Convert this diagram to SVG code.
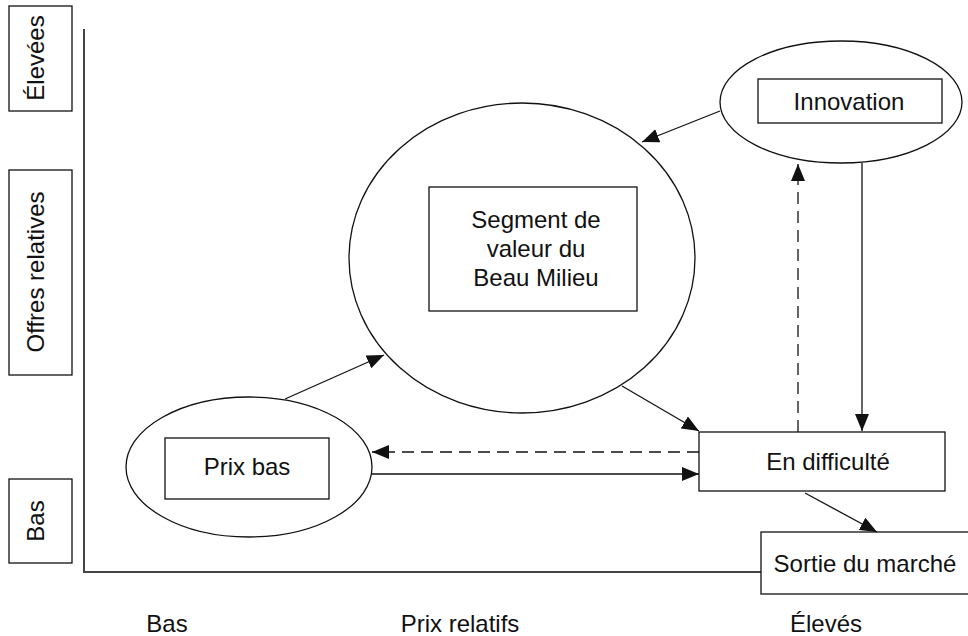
<svg xmlns="http://www.w3.org/2000/svg" width="968" height="636" viewBox="0 0 968 636">
  <style>
    .shape { fill: #ffffff; stroke: #111111; stroke-width: 1.3; }
    .lbl { font-family: "Liberation Sans", Arial, Helvetica, sans-serif; font-size: 24px; fill: #111111; text-anchor: middle; }
    .axis { fill: none; stroke: #444444; stroke-width: 2; }
    .conn { fill: none; stroke: #111111; stroke-width: 1.3; }
    .dash { stroke-dasharray: 12 7; }
  </style>
  <defs>
    <marker id="arrow" markerUnits="userSpaceOnUse" markerWidth="17" markerHeight="14" refX="17" refY="7" orient="auto">
      <path d="M0,0 L17,7 L0,14 Z" fill="#111111"/>
    </marker>
  </defs>
  <rect width="968" height="636" fill="#ffffff"/>

  <g id="axes">
    <polyline class="axis" points="84,29 84,572 761,572"/>
  </g>

  <g id="y-label-high">
    <rect class="shape" x="9" y="6" width="63" height="105"/>
    <text class="lbl" transform="translate(44,58) rotate(-90)">Élevées</text>
  </g>
  <g id="y-label-title">
    <rect class="shape" x="9" y="170" width="63" height="205"/>
    <text class="lbl" transform="translate(44,272) rotate(-90)">Offres relatives</text>
  </g>
  <g id="y-label-low">
    <rect class="shape" x="9" y="479" width="63" height="84"/>
    <text class="lbl" transform="translate(44,521) rotate(-90)">Bas</text>
  </g>

  <g id="x-labels">
    <text class="lbl" x="167" y="632">Bas</text>
    <text class="lbl" x="460" y="632">Prix relatifs</text>
    <text class="lbl" x="826" y="632">Élevés</text>
  </g>

  <g id="node-beau-milieu">
    <ellipse class="shape" cx="522" cy="258" rx="173" ry="155"/>
    <rect class="shape" x="429" y="187" width="208" height="124"/>
    <text class="lbl" x="536" y="228">Segment de</text>
    <text class="lbl" x="536" y="257">valeur du</text>
    <text class="lbl" x="536" y="286">Beau Milieu</text>
  </g>

  <g id="node-innovation">
    <ellipse class="shape" cx="841" cy="102" rx="121" ry="61"/>
    <rect class="shape" x="758" y="79" width="184" height="44"/>
    <text class="lbl" x="849" y="110">Innovation</text>
  </g>

  <g id="node-prix-bas">
    <ellipse class="shape" cx="249" cy="467" rx="123" ry="70"/>
    <rect class="shape" x="165" y="438" width="164" height="61"/>
    <text class="lbl" x="247" y="475">Prix bas</text>
  </g>

  <g id="node-en-difficulte">
    <rect class="shape" x="699" y="432" width="246" height="59"/>
    <text class="lbl" x="828" y="470">En difficulté</text>
  </g>

  <g id="node-sortie">
    <rect class="shape" x="761" y="532" width="210" height="62"/>
    <text class="lbl" x="865" y="572">Sortie du marché</text>
  </g>

  <g id="connectors">
    <line class="conn" x1="285" y1="399" x2="384" y2="355" marker-end="url(#arrow)"/>
    <line class="conn" x1="622" y1="386" x2="699" y2="431" marker-end="url(#arrow)"/>
    <line class="conn" x1="720" y1="111" x2="642" y2="142" marker-end="url(#arrow)"/>
    <line class="conn" x1="862" y1="163" x2="862" y2="431" marker-end="url(#arrow)"/>
    <line class="conn dash" x1="798" y1="432" x2="798" y2="164" marker-end="url(#arrow)"/>
    <line class="conn dash" x1="699" y1="452" x2="372" y2="452" marker-end="url(#arrow)"/>
    <line class="conn" x1="372" y1="474" x2="699" y2="474" marker-end="url(#arrow)"/>
    <line class="conn" x1="805" y1="493" x2="877" y2="532" marker-end="url(#arrow)"/>
  </g>
</svg>
